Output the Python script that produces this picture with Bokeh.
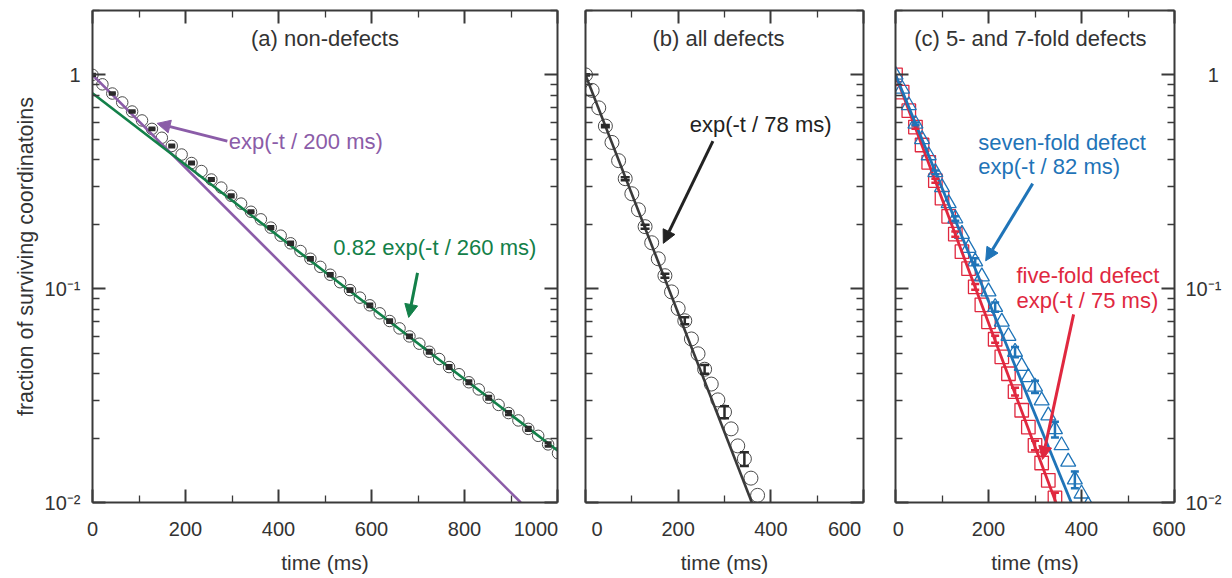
from bokeh.plotting import figure
from bokeh.layouts import row
from bokeh.models import (FixedTicker, LogAxis, LinearAxis, Arrow, NormalHead,
                          Label, CustomJSTickFormatter)
from bokeh.embed import file_html
from bokeh.resources import INLINE

# ---------------- data ----------------
# (a) non-defects
a_t = [0.0, 21.3, 42.6, 63.9, 85.2, 106.5, 127.8, 149.1, 170.4, 191.7, 213.0, 234.3,
       255.6, 276.9, 298.2, 319.5, 340.8, 362.1, 383.4, 404.7, 426.0, 447.3, 468.6, 489.9,
       511.2, 532.5, 553.8, 575.1, 596.4, 617.7, 639.0, 660.3, 681.6, 702.9, 724.2, 745.5,
       766.8, 788.1, 809.4, 830.7, 852.0, 873.3, 894.6, 915.9, 937.2, 958.5, 979.8, 1001.1]
a_y = [1.000, 0.903, 0.818, 0.743, 0.674, 0.612, 0.559, 0.508, 0.465, 0.424, 0.387, 0.355,
       0.324, 0.297, 0.272, 0.250, 0.229, 0.211, 0.193, 0.177, 0.163, 0.150, 0.138, 0.1265,
       0.1162, 0.1072, 0.0985, 0.0908, 0.0836, 0.0767, 0.0706, 0.0652, 0.0598, 0.0553, 0.0507, 0.0469,
       0.0430, 0.0398, 0.0365, 0.0338, 0.0309, 0.0286, 0.0262, 0.0242, 0.0221, 0.0205, 0.0187, 0.0170]
a_err = [0.006, 0.008, 0.009, 0.010, 0.010, 0.011, 0.011, 0.012, 0.012, 0.013, 0.013, 0.013,
         0.014, 0.014, 0.015, 0.015, 0.015, 0.016, 0.016, 0.017, 0.017, 0.018, 0.018, 0.019]
a_fast_t = [0, 921]
a_fast_y = [1.0, 0.01]
a_slow_t = [0, 1000]
a_slow_y = [0.82, 0.0175]

# (b) all defects
b_t = [0.0, 14.3, 28.6, 42.9, 57.1, 71.4, 85.7, 100.0, 114.3, 128.6, 142.9, 157.1, 171.4,
       185.7, 200.0, 214.3, 228.6, 242.9, 257.1, 271.4, 285.7, 300.0, 314.3, 328.6, 342.9,
       357.1, 371.4]
b_y = [1.0, 0.846, 0.701, 0.576, 0.483, 0.397, 0.327, 0.278, 0.234, 0.195, 0.164, 0.138, 0.115,
       0.0966, 0.0808, 0.0708, 0.0582, 0.0496, 0.0420, 0.0358, 0.0302, 0.0265, 0.0221, 0.0184,
       0.0160, 0.0130, 0.0108]
b_err = [0.008, 0.012, 0.016, 0.022, 0.022, 0.038, 0.048, 0.064, 0.075]
b_fit_t = [0, 359]
b_fit_y = [1.0, 0.01]

# (c) five-fold (squares) and seven-fold (triangles)
c5_t = [0.0, 14.3, 28.6, 42.9, 57.1, 71.4, 85.7, 100.0, 114.3, 128.6, 142.9, 157.1, 171.4,
        185.7, 200.0, 214.3, 228.6, 242.9, 257.1, 271.4, 285.7, 300.0, 314.3, 328.6, 342.9]
c5_y = [1.0, 0.83, 0.68, 0.57, 0.47, 0.39, 0.32, 0.265, 0.218, 0.180, 0.149, 0.124, 0.102,
        0.084, 0.070, 0.058, 0.048, 0.040, 0.033, 0.027, 0.0225, 0.0185, 0.0153, 0.0127, 0.0105]
c5_err = [0.018, 0.022, 0.028, 0.032, 0.038, 0.042, 0.052, 0.058]
c5_fit_t = [0, 345]
c5_fit_y = [1.0, 0.01]

c7_t = [0.0, 14.3, 28.6, 42.9, 57.1, 71.4, 85.7, 100.0, 114.3, 128.6, 142.9, 157.1, 171.4,
        185.7, 200.0, 214.3, 228.6, 242.9, 257.1, 271.4, 285.7, 300.0, 314.3, 328.6, 342.9,
        357.1, 371.4, 385.7, 400.0, 414.3]
c7_y = [1.0, 0.86, 0.72, 0.59, 0.50, 0.42, 0.35, 0.298, 0.251, 0.213, 0.180, 0.155, 0.134,
        0.114, 0.097, 0.082, 0.070, 0.060, 0.0506, 0.0435, 0.0385, 0.0348, 0.0300, 0.0255,
        0.0220, 0.0185, 0.0155, 0.0128, 0.0110, 0.0097]
c7_err = [0.015, 0.020, 0.025, 0.035, 0.050, 0.055, 0.065, 0.085, 0.090]
c7_fit_t = [0, 378]
c7_fit_y = [1.0, 0.01]

# ticks / labels
ytick_vals = [0.01, 0.1, 1]
ytick_labels = ["10\u207b\u00b2", "10\u207b\u00b9", "1"]
y_minor = [0.02, 0.03, 0.04, 0.05, 0.06, 0.07, 0.08, 0.09,
           0.2, 0.3, 0.4, 0.5, 0.6, 0.7, 0.8, 0.9, 2]
a_xticks = [0, 200, 400, 600, 800, 1000]
a_xlabels = ["0", "200", "400", "600", "800", "1000"]
a_xminor = [100, 300, 500, 700, 900]
bc_xticks = [0, 200, 400, 600]
bc_xlabels = ["0", "200", "400", "600"]
bc_xminor = [100, 300, 500]
titles = ["(a) non-defects", "(b) all defects", "(c) 5- and 7-fold defects"]
x_label = "time (ms)"
y_label = "fraction of surviving coordinatoins"

# ---------------- style ----------------
FONT = "Liberation Sans"
AX = "#3a3a3a"
TXT = "#333333"
MARK = "#4a4a4a"
PURPLE = "#8b5ca8"
GREEN = "#138049"
BLUE = "#1f74b8"
RED = "#e0283f"
H = 576
FRAME_TOP = 10
FRAME_BOTTOM = 69
FS = "\u2007"   # figure space (label nudging)
PS = "\u2008"   # punctuation space

LABEL_JS = """
for (let i = 0; i < vals.length; i++) {
  if (Math.abs(Math.log10(Math.abs(tick) + 1e-9) - Math.log10(Math.abs(vals[i]) + 1e-9)) < 1e-6)
    return pre[i] + labs[i] + post[i];
}
return "";
"""


def fmt(vals, labs, pre=None, post=None):
    pre = pre or [""] * len(vals)
    post = post or [""] * len(vals)
    return CustomJSTickFormatter(args=dict(vals=vals, labs=labs, pre=pre, post=post),
                                 code=LABEL_JS)


def style_axis(ax, show_labels):
    ax.axis_line_color = AX
    ax.axis_line_width = 2
    ax.major_tick_line_color = AX
    ax.major_tick_line_width = 2
    ax.minor_tick_line_color = AX
    ax.minor_tick_line_width = 1.3
    ax.major_tick_in = 13
    ax.major_tick_out = 0
    ax.minor_tick_in = 7
    ax.minor_tick_out = 0
    ax.major_label_text_font = FONT
    ax.major_label_text_font_size = "20px"
    ax.major_label_text_color = TXT
    ax.axis_label_text_font = FONT
    ax.axis_label_text_font_size = "21px"
    ax.axis_label_text_font_style = "normal"
    ax.axis_label_text_color = TXT
    if not show_labels:
        ax.formatter = CustomJSTickFormatter(code="return '';")
        ax.major_label_text_font_size = "0px"
        ax.major_label_standoff = 0


def make_fig(width, xmax, xticks, xlabels, xminor, xpre, xpost, mbl, mbr,
             left_labels, right_labels):
    p = figure(width=width, height=H, x_range=(0, xmax), y_range=(0.01, 2),
               y_axis_type="log", output_backend="svg", toolbar_location=None,
               min_border_left=mbl, min_border_right=mbr,
               min_border_top=FRAME_TOP, min_border_bottom=FRAME_BOTTOM)
    p.xgrid.visible = False
    p.ygrid.visible = False
    p.outline_line_color = None
    p.background_fill_color = "white"
    p.border_fill_color = "white"

    xt = FixedTicker(ticks=xticks, minor_ticks=xminor)
    yt = FixedTicker(ticks=ytick_vals, minor_ticks=y_minor)

    xa = p.xaxis[0]
    xa.ticker = xt
    xa.axis_label = x_label
    style_axis(xa, True)
    xa.formatter = CustomJSTickFormatter(
        args=dict(vals=xticks, labs=xlabels, pre=xpre, post=xpost),
        code="""
for (let i = 0; i < vals.length; i++) {
  if (Math.abs(tick - vals[i]) < 1e-6) return pre[i] + labs[i] + post[i];
}
return "";
""")
    xa.major_label_standoff = 15
    xa.axis_label_standoff = 8

    ya = p.yaxis[0]
    ya.ticker = yt
    style_axis(ya, left_labels)
    if left_labels:
        ya.formatter = fmt(ytick_vals, ytick_labels)
        ya.major_label_standoff = 12
        ya.axis_label = y_label
        ya.axis_label_text_font_size = "21.5px"
        ya.axis_label_standoff = 4

    top = LinearAxis(ticker=xt)
    style_axis(top, False)
    p.add_layout(top, "above")

    ra = LogAxis(ticker=yt)
    style_axis(ra, right_labels)
    if right_labels:
        ra.formatter = fmt(ytick_vals, ytick_labels, pre=["", "", FS + FS])
        ra.major_label_standoff = 11
    p.add_layout(ra, "right")
    return p


def err_bars(p, t, y, err, color, lw, cap):
    lo = [yy * (1 - e) for yy, e in zip(y, err)]
    hi = [yy * (1 + e) for yy, e in zip(y, err)]
    p.segment(t, lo, t, hi, line_color=color, line_width=lw)
    p.scatter(t, lo, marker="dash", size=cap, line_color=color, line_width=lw)
    p.scatter(t, hi, marker="dash", size=cap, line_color=color, line_width=lw)


def label(p, x, y, text, color, size="22px", align="left"):
    p.add_layout(Label(x=x, y=y, text=text, text_align=align, text_baseline="middle",
                       text_font=FONT, text_font_size=size, text_color=color))


def arrow(p, x0, y0, x1, y1, color):
    p.add_layout(Arrow(end=NormalHead(size=13, fill_color=color, line_color=color, line_width=1),
                       x_start=x0, y_start=y0, x_end=x1, y_end=y1,
                       line_color=color, line_width=3))


# ---------------- panel (a) ----------------
pa = make_fig(580, 1000, a_xticks, a_xlabels, a_xminor,
              [""] * 6, ["", "", "", "", "", FS + FS], 92, 23, True, False)
pa.scatter(a_t, a_y, marker="circle", size=11.5, fill_color=None, line_color=MARK, line_width=1)
pa.line(a_fast_t, a_fast_y, line_color=PURPLE, line_width=2.6)
pa.line(a_slow_t, a_slow_y, line_color=GREEN, line_width=2.6)
err_bars(pa, a_t[0::2], a_y[0::2], a_err, "#2a2a2a", 3, 7)
label(pa, 500, 1.48, titles[0], TXT, align="center")
label(pa, 293, 0.49, "exp(-t / 200 ms)", PURPLE)
arrow(pa, 290, 0.49, 139, 0.593, PURPLE)
label(pa, 518, 0.155, "0.82 exp(-t / 260 ms)", GREEN)
arrow(pa, 699, 0.1186, 680, 0.0734, GREEN)

# ---------------- panel (b) ----------------
pb = make_fig(303, 600, bc_xticks, bc_xlabels, bc_xminor,
              [FS, "", "", ""], ["", "", "", FS + FS], 5, 20, False, False)
pb.scatter(b_t, b_y, marker="circle", size=14, fill_color=None, line_color=MARK, line_width=1)
pb.line(b_fit_t, b_fit_y, line_color="#3a3a3a", line_width=2.6)
err_bars(pb, b_t[0::3], b_y[0::3], b_err, "#2a2a2a", 2.5, 9)
label(pb, 287, 1.48, titles[1], TXT, align="center")
label(pb, 378, 0.587, "exp(-t / 78 ms)", "#222222", align="center")
arrow(pb, 275, 0.49, 168, 0.163, "#222222")

# ---------------- panel (c) ----------------
pc = make_fig(341, 600, bc_xticks, bc_xlabels, bc_xminor,
              [PS, "", "", ""], ["", "", "", FS], 12, 50, False, True)
pc.scatter(c5_t, c5_y, marker="square", size=13.5, fill_color=None, line_color=RED, line_width=1.3)
pc.scatter(c7_t, c7_y, marker="triangle", size=15, fill_color=None, line_color=BLUE, line_width=1.3)
pc.line(c5_fit_t, c5_fit_y, line_color=RED, line_width=2.8)
pc.line(c7_fit_t, c7_fit_y, line_color=BLUE, line_width=2.8)
err_bars(pc, c5_t[3::3], c5_y[3::3], c5_err, RED, 2.5, 8)
err_bars(pc, c7_t[3::3], c7_y[3::3], c7_err, BLUE, 2.5, 8)
label(pc, 290, 1.48, titles[2], TXT, align="center")
label(pc, 178, 0.484, "seven-fold defect", BLUE)
label(pc, 178, 0.371, "exp(-t / 82 ms)", BLUE)
arrow(pc, 295, 0.31, 194, 0.135, BLUE)
label(pc, 260, 0.115, "five-fold defect", RED)
label(pc, 260, 0.088, "exp(-t / 75 ms)", RED)
arrow(pc, 383, 0.0758, 316, 0.0159, RED)

layout = row(pa, pb, pc, spacing=0)
open("out.html", "w").write(file_html(layout, INLINE))
